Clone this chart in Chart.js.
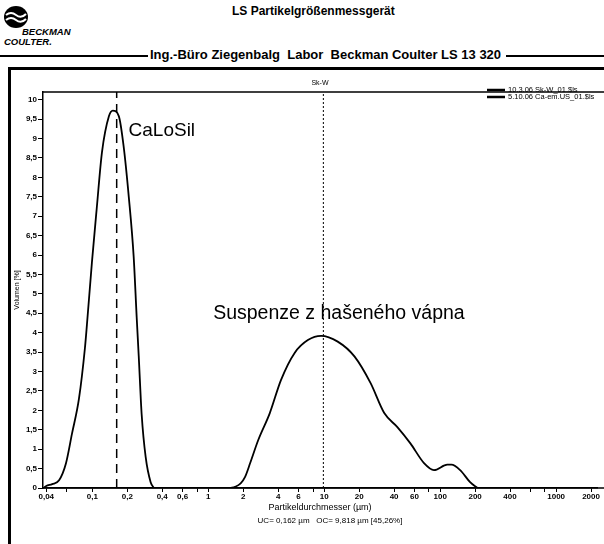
<!DOCTYPE html>
<html lang="de">
<head>
<meta charset="UTF-8">
<title>LS Partikelgrößenmessgerät</title>
<script src="https://cdn.jsdelivr.net/npm/chart.js"></script>
<style>
  body { margin: 0; background: #fff; font-family: "Liberation Sans", Arial, sans-serif; }
  .page { position: relative; width: 604px; height: 544px; overflow: hidden; }
  .logo { position: absolute; left: 2px; top: 4px; }
  .titel { position: absolute; left: 232px; top: 4px; font-weight: bold; font-size: 12px; }
  .kopf { position: absolute; left: 0; top: 47px; width: 604px; height: 16px; }
  .kopf .linie { position: absolute; top: 8px; height: 2px; background: #000; }
  .kopf span { position: absolute; left: 150px; top: 0; font-weight: bold; font-size: 13px; white-space: nowrap; }
  .rahmen { position: absolute; left: 8px; top: 67px; width: 600px; height: 480px;
            border-left: 3px solid #000; border-top: 3px solid #000; }
  #chart { position: absolute; left: 11px; top: 70px; }
</style>
</head>
<body>
<div class="page">
  <svg class="logo" width="72" height="44" viewBox="0 0 72 44">
    <ellipse cx="14" cy="13" rx="12" ry="11" fill="#000"/>
    <path d="M4 11 Q9 7 14 11 T24 10" stroke="#fff" stroke-width="2" fill="none"/>
    <path d="M4 16 Q9 12 14 16 T24 15" stroke="#fff" stroke-width="2" fill="none"/>
    <text x="20" y="31" font-family="Liberation Sans" font-style="italic" font-weight="bold" font-size="9.5">BECKMAN</text>
    <text x="2" y="41" font-family="Liberation Sans" font-style="italic" font-weight="bold" font-size="9.5">COULTER.</text>
  </svg>
  <div class="titel">LS Partikelgrößenmessgerät</div>
  <div class="kopf">
    <div class="linie" style="left:0;width:148px"></div>
    <span>Ing.-Büro Ziegenbalg&nbsp; Labor&nbsp; Beckman Coulter LS 13 320</span>
    <div class="linie" style="left:506px;width:98px"></div>
  </div>
  <div class="rahmen"></div>
  <canvas id="chart" width="593" height="474"></canvas>
</div>

<script>
// Messkurve 1: Suspenze z hašeného vápna (Sk-W)
var skwX = [1.55, 1.7, 1.9, 2.07, 2.3, 2.69, 3.39, 4.23, 5.55, 7.22, 9.39, 13.06, 18.2, 25.1, 32.9, 42.7, 55.3, 72.5, 88.3, 115, 125, 148.6, 181, 210];
var skwY = [0, 0.03, 0.12, 0.28, 0.65, 1.23, 1.93, 2.78, 3.48, 3.81, 3.92, 3.77, 3.39, 2.7, 1.93, 1.57, 1.15, 0.64, 0.46, 0.6, 0.6, 0.46, 0.15, 0];

// Messkurve 2: CaLoSil (Ca-em.US)
var caX = [0.038, 0.04, 0.045, 0.0516, 0.0592, 0.0667, 0.0766, 0.0862, 0.0897, 0.099, 0.109, 0.121, 0.139, 0.150, 0.169, 0.186, 0.206, 0.227, 0.241, 0.251, 0.266, 0.288, 0.318, 0.34];
var caY = [0, 0.05, 0.1, 0.2, 0.64, 1.4, 2.3, 3.6, 4.2, 5.8, 7.2, 8.65, 9.58, 9.72, 9.58, 8.8, 7.5, 5.96, 4.4, 3.4, 1.9, 0.8, 0.15, 0];

var legendeText = ['10.3.06 Sk-W_01.$ls', '5.10.06 Ca-em.US_01.$ls'];

// Achsenbeschriftung
var xTicks = [0.04, 0.06, 0.1, 0.2, 0.4, 0.6, 0.8, 1, 2, 4, 6, 8, 10, 20, 40, 60, 80, 100, 200, 400, 600, 800, 1000, 2000];
var xOhneText = [0.06, 0.8, 8, 80, 600, 800];
var uc = 0.162;
var oc = 9.818;
var ocProzent = '45,26';

function punkte(xs, ys) {
  var p = [];
  for (var i = 0; i < xs.length; i++) p.push({x: xs[i], y: ys[i]});
  return p;
}

function komma(v) {
  return String(v).replace('.', ',');
}

var schmal = '"Liberation Sans Narrow", "Liberation Sans", Arial';
var tickFont = {family: schmal, size: 8, weight: 'bold'};

// Linien, Texte und Legende direkt auf die Zeichenfläche
var extras = {
  id: 'extras',
  afterDraw: function (chart) {
    var ctx = chart.ctx;
    var a = chart.chartArea;
    var xs = chart.scales.x;
    var ys = chart.scales.y;
    ctx.save();
    ctx.strokeStyle = '#000';

    // obere Linie und verlängerte x-Achse
    ctx.lineWidth = 1.5;
    ctx.beginPath();
    ctx.moveTo(a.left, a.top); ctx.lineTo(chart.width, a.top);
    ctx.moveTo(a.left, a.bottom); ctx.lineTo(chart.width, a.bottom);
    ctx.stroke();

    // UC gestrichelt, OC gepunktet
    var xu = xs.getPixelForValue(uc);
    ctx.lineWidth = 1.5;
    ctx.setLineDash([9, 6]);
    ctx.beginPath(); ctx.moveTo(xu, a.bottom); ctx.lineTo(xu, a.top); ctx.stroke();
    var xo = xs.getPixelForValue(oc);
    ctx.lineWidth = 1;
    ctx.setLineDash([2, 2]);
    ctx.beginPath(); ctx.moveTo(xo, a.bottom); ctx.lineTo(xo, a.top); ctx.stroke();
    ctx.setLineDash([]);

    ctx.fillStyle = '#000';
    ctx.textBaseline = 'middle';
    ctx.textAlign = 'left';
    ctx.font = '19px "Liberation Sans", Arial';
    ctx.fillText('CaLoSil', xs.getPixelForValue(0.205), ys.getPixelForValue(9.2));
    ctx.font = '19.5px "Liberation Sans", Arial';
    ctx.fillText('Suspenze z hašeného vápna', xs.getPixelForValue(1.1), ys.getPixelForValue(4.5));

    // Probenbezeichnung über dem Diagramm
    ctx.font = '7px "Liberation Sans", Arial';
    ctx.textAlign = 'center';
    ctx.fillText('Sk-W', (a.left + a.right) / 2, a.top - 9);

    // Legende rechts oben
    ctx.font = '7.5px ' + schmal;
    ctx.textAlign = 'left';
    for (var i = 0; i < legendeText.length; i++) {
      var y = a.top - 2 + i * 7;
      ctx.lineWidth = 2.5;
      ctx.beginPath(); ctx.moveTo(476, y); ctx.lineTo(494, y); ctx.stroke();
      ctx.fillText(legendeText[i], 497, y);
    }

    // UC / OC Angabe unter der Achse
    ctx.font = '8px ' + schmal;
    ctx.textAlign = 'center';
    ctx.fillText('UC= ' + komma(uc) + ' µm   OC= ' + komma(oc) + ' µm [' + ocProzent + '%]', 319, a.bottom + 33);
    ctx.restore();
  }
};

new Chart(document.getElementById('chart'), {
  type: 'scatter',
  data: {
    datasets: [
      {label: legendeText[0], data: punkte(skwX, skwY), showLine: true, borderColor: '#000', borderWidth: 1.8,
       pointRadius: 0, cubicInterpolationMode: 'monotone'},
      {label: legendeText[1], data: punkte(caX, caY), showLine: true, borderColor: '#000', borderWidth: 1.8,
       pointRadius: 0, cubicInterpolationMode: 'monotone'}
    ]
  },
  options: {
    responsive: false,
    animation: false,
    layout: {padding: {top: 22, right: 7, bottom: 30, left: 0}},
    plugins: {legend: {display: false}, tooltip: {enabled: false}},
    scales: {
      x: {
        type: 'logarithmic',
        min: 0.0375,
        max: 2250,
        afterBuildTicks: function (s) { s.ticks = xTicks.map(function (v) { return {value: v}; }); },
        afterFit: function (s) { s.height = 26; },
        ticks: {
          autoSkip: false, maxRotation: 0, padding: 0, color: '#000', font: tickFont,
          callback: function (v) { return xOhneText.indexOf(v) >= 0 ? '' : komma(v); }
        },
        grid: {display: true, drawOnChartArea: false, drawTicks: true, tickLength: 4, color: '#000', lineWidth: 1},
        border: {display: true, color: '#000', width: 1.5},
        title: {display: true, text: 'Partikeldurchmesser (µm)', color: '#000', padding: {top: 0, bottom: 1},
                font: {family: schmal, size: 9}}
      },
      y: {
        min: 0,
        max: 10.2,
        afterBuildTicks: function (s) {
          var t = [];
          for (var v = 0; v <= 10; v += 0.5) t.push({value: v});
          s.ticks = t;
        },
        afterFit: function (s) { s.width = 32; },
        ticks: {padding: 1, color: '#000', font: tickFont, callback: function (v) { return komma(v); }},
        grid: {display: true, drawOnChartArea: false, drawTicks: true, tickLength: 5, color: '#000', lineWidth: 1},
        border: {display: true, color: '#000', width: 1.5},
        title: {display: true, text: 'Volumen [%]', color: '#000', padding: {top: 2, bottom: 0},
                font: {family: schmal, size: 7}}
      }
    }
  },
  plugins: [extras]
});
</script>
</body>
</html>
